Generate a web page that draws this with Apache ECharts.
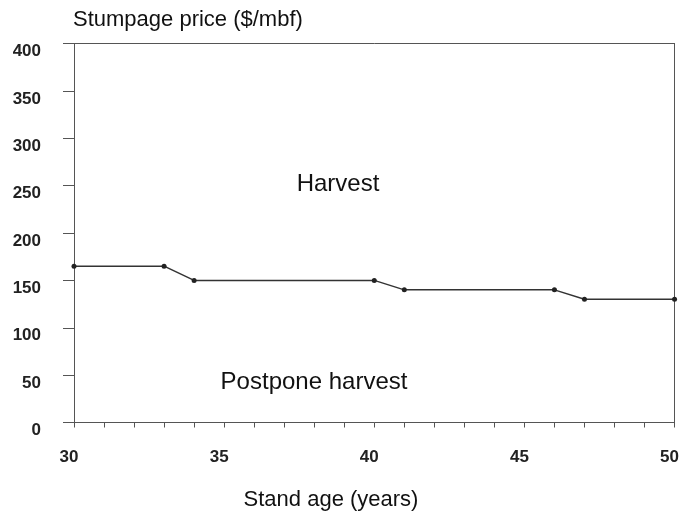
<!DOCTYPE html>
<html>
<head>
<meta charset="utf-8">
<script src="https://cdn.jsdelivr.net/npm/echarts@6/dist/echarts.min.js"></script>
<style>
  html, body { margin: 0; padding: 0; background: #fff; }
  #chart { width: 682px; height: 515px; }
</style>
</head>
<body>
<div id="chart"></div>
<script>
// stand age (years) and the stumpage price threshold ($/mbf)
var standAge = [30, 33, 34, 40, 41, 46, 47, 50];
var threshold = [165, 165, 150, 150, 140, 140, 130, 130];
var xTicks = [30, 35, 40, 45, 50];
var yTicks = [0, 50, 100, 150, 200, 250, 300, 350, 400];

var font = 'Liberation Sans, Arial, sans-serif';
var axisColor = '#555';
var textColor = '#111';

var chart = echarts.init(document.getElementById('chart'));
chart.setOption({
	animation: false,
	backgroundColor: '#fff',
	grid: {
		left: 74,
		right: 5,
		top: 43.5,
		bottom: 92.5
	},
	xAxis: [{
		type: 'value',
		min: 30,
		max: 50,
		interval: 1,
		axisLine: { onZero: false, lineStyle: { color: axisColor, width: 1 } },
		axisTick: { inside: false, length: 5, lineStyle: { color: axisColor } },
		splitLine: { show: false },
		axisLabel: {
			margin: 26,
			fontSize: 17,
			fontWeight: 'bold',
			fontFamily: font,
			color: '#222',
			padding: [0, 10, 0, 0],
			formatter: function(v) {
				return xTicks.indexOf(v) >= 0 ? String(v) : '';
			}
		}
	}, {
		type: 'value',
		position: 'top',
		min: 30,
		max: 50,
		axisLine: { show: true, onZero: false, lineStyle: { color: axisColor, width: 1 } },
		axisTick: { show: false },
		axisLabel: { show: false },
		splitLine: { show: false }
	}],
	yAxis: [{
		type: 'value',
		min: 0,
		max: 400,
		interval: 50,
		axisLine: { show: true, onZero: false, lineStyle: { color: axisColor, width: 1 } },
		axisTick: { show: true, inside: false, length: 11, lineStyle: { color: axisColor } },
		splitLine: { show: false },
		axisLabel: {
			margin: 33,
			fontSize: 17,
			fontWeight: 'bold',
			fontFamily: font,
			color: '#222',
			verticalAlign: 'top',
			lineHeight: 16,
			formatter: function(v) {
				return yTicks.indexOf(v) >= 0 ? String(v) : '';
			}
		}
	}, {
		type: 'value',
		position: 'right',
		min: 0,
		max: 400,
		axisLine: { show: true, onZero: false, lineStyle: { color: axisColor, width: 1 } },
		axisTick: { show: false },
		axisLabel: { show: false },
		splitLine: { show: false }
	}],
	graphic: [{
		type: 'text',
		x: 73,
		y: 20,
		style: {
			text: 'Stumpage price ($/mbf)',
			fontSize: 22,
			fontFamily: font,
			fill: textColor,
			textAlign: 'left',
			textVerticalAlign: 'middle'
		}
	}, {
		type: 'text',
		x: 338,
		y: 184,
		style: {
			text: 'Harvest',
			fontSize: 24,
			fontFamily: font,
			fill: textColor,
			textAlign: 'center',
			textVerticalAlign: 'middle'
		}
	}, {
		type: 'text',
		x: 314,
		y: 382,
		style: {
			text: 'Postpone harvest',
			fontSize: 24,
			fontFamily: font,
			fill: textColor,
			textAlign: 'center',
			textVerticalAlign: 'middle'
		}
	}, {
		type: 'text',
		x: 331,
		y: 500,
		style: {
			text: 'Stand age (years)',
			fontSize: 22,
			fontFamily: font,
			fill: textColor,
			textAlign: 'center',
			textVerticalAlign: 'middle'
		}
	}],
	series: [{
		type: 'line',
		data: standAge.map(function(a, i) { return [a, threshold[i]]; }),
		symbol: 'circle',
		symbolSize: 5,
		showSymbol: true,
		itemStyle: { color: '#222' },
		lineStyle: { color: '#333', width: 1.5 },
		clip: false
	}]
});
</script>
</body>
</html>
